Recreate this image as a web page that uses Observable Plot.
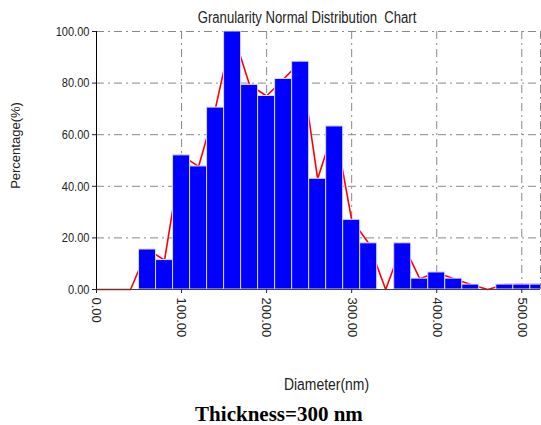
<!DOCTYPE html>
<html><head><meta charset="utf-8">
<script src="https://cdn.jsdelivr.net/npm/d3@7"></script>
<script src="https://cdn.jsdelivr.net/npm/@observablehq/plot@0.6"></script>
<style>
body{margin:0;background:#fff;width:541px;height:425px;overflow:hidden}
#caption{font-family:"Liberation Serif","Times New Roman",serif;font-weight:bold;font-size:21px;text-align:center;width:541px;padding-left:17px;box-sizing:border-box;line-height:26px;color:#000}
</style></head><body><div id="chart"></div><div id="caption">Thickness=300 nm</div>
<script>
const diameters = [60,80,100,120,140,160,180,200,220,240,260,280,300,320,340,360,380,400,420,440,460,480,500,520];
const percentages = [15.5,11.4,52,47.7,70.5,100,79.3,75,81.6,88.3,42.9,63.2,27,17.9,0,17.9,4.2,6.6,4.2,1.9,0,1.9,1.9,1.9];
const leadDiameters = [0,20,40];
const leadPercentages = [0,0,0];
const yTicks = [0,20,40,60,80,100];
const xTicks = [0,100,200,300,400,500];
const titleText = "Granularity Normal Distribution  Chart";
const xLabel = "Diameter(nm)";
const yLabel = "Percentage(%)";

const bars = diameters.map((x,i)=>({x, v: percentages[i]})).filter(d=>d.v>0);
const lineData = leadDiameters.map((x,i)=>({x, v: leadPercentages[i]}))
  .concat(diameters.map((x,i)=>({x, v: percentages[i]})));

const regular = "'Liberation Sans',Arial,sans-serif";
const dash = "8,4,2,4";

const chart = Plot.plot({
  width: 541,
  height: 401,
  marginLeft: 96,
  marginRight: 1,
  marginTop: 31,
  marginBottom: 112,
  style: {fontFamily: regular, fontSize: "13px", color: "#222", background: "#fff"},
  x: {domain: [0, 522], axis: null},
  y: {domain: [0, 100], axis: null},
  marks: [
    Plot.gridY(yTicks.slice(1), {stroke: "#888", strokeOpacity: 1, strokeDasharray: dash}),
    Plot.gridX(xTicks.slice(1).concat([522]), {stroke: "#888", strokeOpacity: 1, strokeDasharray: dash}),
    Plot.line(lineData, {x: "x", y: "v", stroke: "#ff0000", strokeWidth: 1.6}),
    Plot.rectY(bars, {x1: d=>d.x-10, x2: d=>d.x+10, y: "v", fill: "#0000ff", stroke: "#d8d8ff", strokeWidth: 1, clip: true}),
    Plot.ruleY([0], {stroke: "#444"}),
    Plot.ruleX([0], {stroke: "#000"}),
    Plot.axisY(yTicks, {tickFormat: d=>d.toFixed(2), tickSize: 4, tickPadding: 3, fontSize: 13.5, label: null, ariaLabel: "narrow-y"}),
    Plot.axisX(xTicks, {tickFormat: d=>d.toFixed(2), tickSize: 4, tickPadding: 4, tickRotate: 90, fontSize: 13, label: null}),
    Plot.text([titleText], {text: d=>d, frameAnchor: "top", textAnchor: "middle", lineAnchor: "middle", dy: -14, dx: -11.5, fontSize: 16, fill: "#222"}),
    Plot.text([xLabel], {text: d=>d, frameAnchor: "bottom", textAnchor: "middle", lineAnchor: "middle", dy: 95, dx: 8, fontSize: 17, fill: "#222"}),
    Plot.text([yLabel], {text: d=>d, frameAnchor: "left", textAnchor: "middle", lineAnchor: "middle", rotate: -90, dx: -81, dy: -15, fontSize: 13, fill: "#222"})
  ]
});
document.getElementById("chart").appendChild(chart);
// Narrow the horizontal texts (the reference uses a condensed face)
d3.select(chart).selectAll("g[aria-label^='narrow'] text").each(function() {
  const t = this.getAttribute("transform") || "";
  this.setAttribute("transform", t + " scale(0.82,1)");
});
d3.select(chart).selectAll("text").filter(function() {
  return this.textContent === titleText || this.textContent === xLabel;
}).each(function() {
  const b = this.getBBox();
  const cx = b.x + b.width / 2;
  const t = this.getAttribute("transform") || "";
  this.setAttribute("transform", `${t} translate(${cx},0) scale(0.82,1) translate(${-cx},0)`);
});
</script></body></html>
